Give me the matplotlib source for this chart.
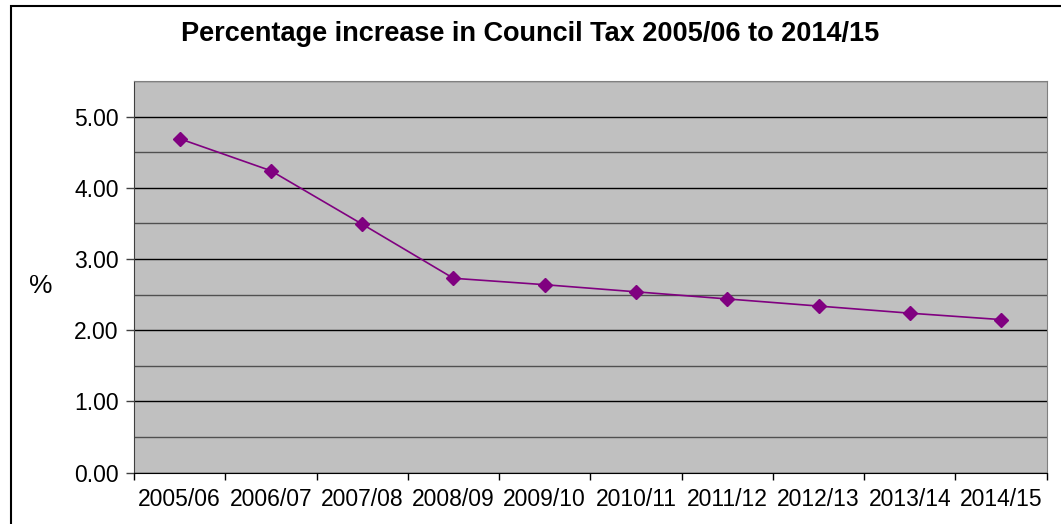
import matplotlib
matplotlib.use("Agg")
import matplotlib.pyplot as plt
from matplotlib.patches import Rectangle
from matplotlib.ticker import MultipleLocator, FixedLocator, NullFormatter

years = ["2005/06", "2006/07", "2007/08", "2008/09", "2009/10",
         "2010/11", "2011/12", "2012/13", "2013/14", "2014/15"]
increase = [4.69, 4.24, 3.49, 2.73, 2.64, 2.54, 2.44, 2.34, 2.24, 2.15]

plt.rcParams["font.family"] = ["Liberation Sans", "DejaVu Sans"]

fig = plt.figure(figsize=(10.61, 5.24), dpi=100)
ax = fig.add_axes([0.1263, 0.0979, 0.8602, 0.7475])
ax.set_facecolor("#c0c0c0")

x = [i + 0.5 for i in range(len(years))]
ax.plot(x, increase, color="#800080", linewidth=1.2, marker="D",
        markersize=7, zorder=3)

ax.set_xlim(0, len(years))
ax.set_ylim(0, 5.5)

ax.yaxis.set_minor_locator(MultipleLocator(0.5))
ax.set_yticks([0, 1, 2, 3, 4, 5])
ax.set_yticklabels(["%.2f" % v for v in [0, 1, 2, 3, 4, 5]], fontsize=16.5)
ax.grid(axis="y", which="major", color="black", linewidth=1.0)
ax.grid(axis="y", which="minor", color="#505050", linewidth=1.0)
ax.set_axisbelow(True)
ax.tick_params(axis="y", which="major", length=6, width=1, color="#404040", pad=5)
ax.tick_params(axis="y", which="minor", length=0)

ax.xaxis.set_major_locator(FixedLocator(range(len(years) + 1)))
ax.xaxis.set_major_formatter(NullFormatter())
ax.xaxis.set_minor_locator(FixedLocator(x))
ax.set_xticklabels(years, minor=True, fontsize=16.5)
ax.tick_params(axis="x", which="major", length=5, width=1, color="black")
ax.tick_params(axis="x", which="minor", length=0, pad=11)

for side in ["top", "right"]:
    ax.spines[side].set_color("#808080")
ax.spines["left"].set_color("#404040")
ax.spines["bottom"].set_color("black")

fig.text(0.4995, 0.935, "Percentage increase in Council Tax 2005/06 to 2014/15",
         ha="center", va="center", fontsize=19.5, fontweight="bold")
fig.text(0.038, 0.455, "%", ha="center", va="center", fontsize=19)

fig.patches.append(Rectangle((11 / 1061, -0.02), 1.0, 1.02 - 6 / 524,
                             transform=fig.transFigure, fill=False,
                             edgecolor="black", linewidth=1.5))

fig.savefig("out.png", dpi=100)
plt.close()
